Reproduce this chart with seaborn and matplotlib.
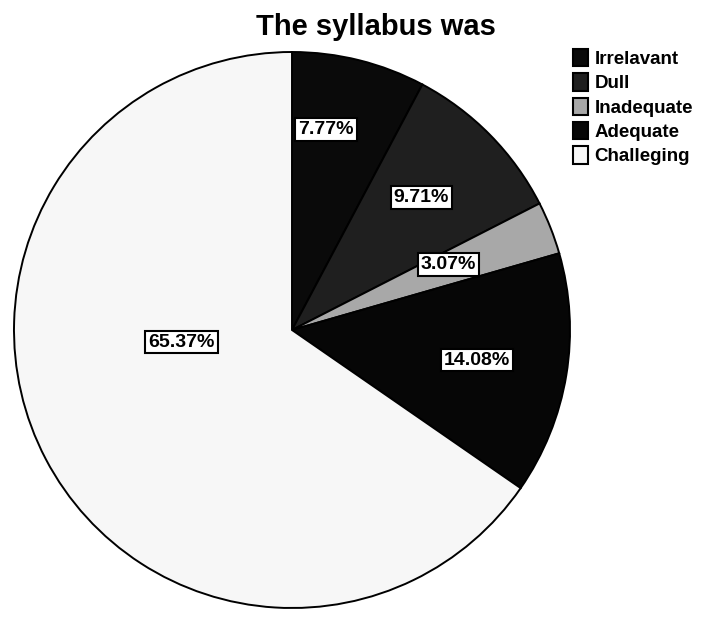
import matplotlib
matplotlib.use("Agg")
import matplotlib.pyplot as plt
import seaborn as sns
import numpy as np

categories = ["Irrelavant", "Dull", "Inadequate", "Adequate", "Challeging"]
values = [7.77, 9.71, 3.07, 14.08, 65.37]
labels = ["7.77%", "9.71%", "3.07%", "14.08%", "65.37%"]
colors = ["#0a0a0a", "#1f1f1f", "#a8a8a8", "#060606", "#f7f7f7"]

# label placement (radius fraction, angle in degrees)
label_r = [0.73, 0.665, 0.61, 0.675, 0.40]
label_ang = [80.4, 45.7, 22.6, -9.2, -173.8]

sns.set_theme(style="white")
plt.rcParams['font.family'] = ['Liberation Sans', 'DejaVu Sans']
plt.rcParams['text.color'] = 'black'

R = 278
fig = plt.figure(figsize=(7.04, 6.23), dpi=100)
ax = fig.add_axes([(292 - R) / 704, 1 - (330 + R) / 623, 2 * R / 704, 2 * R / 623])

wedges, _ = ax.pie(values, colors=colors, startangle=90, counterclock=False,
                   wedgeprops=dict(edgecolor="black", linewidth=1.4), radius=1.0)
ax.set_xlim(-1, 1)
ax.set_ylim(-1, 1)
ax.set_aspect("equal")
ax.axis("off")

for lab, r, a in zip(labels, label_r, label_ang):
    ax.text(r * np.cos(np.radians(a)), r * np.sin(np.radians(a)), lab,
            ha="center", va="center", fontsize=14, fontweight="bold", color="black",
            bbox=dict(boxstyle="square,pad=0.15", facecolor="white", edgecolor="black", linewidth=1.5))

fig.text(376 / 704, 1 - 27 / 623, "The syllabus was", ha="center", va="center",
         fontsize=21, fontweight="bold", color="black")

leg = fig.legend(wedges, categories, loc="upper left", bbox_to_anchor=(573 / 704, 1 - 49 / 623),
                 frameon=False, handlelength=0.8, handleheight=1.05,
                 handletextpad=0.35, labelspacing=0.28, borderaxespad=0, borderpad=0,
                 prop=dict(family=['Liberation Sans Narrow', 'Liberation Sans'], weight='bold', size=13.5))
for t in leg.get_texts():
    t.set_color("black")
for h in leg.legend_handles:
    h.set_linewidth(1.5)

fig.savefig("out.png", dpi=100, facecolor="white")
